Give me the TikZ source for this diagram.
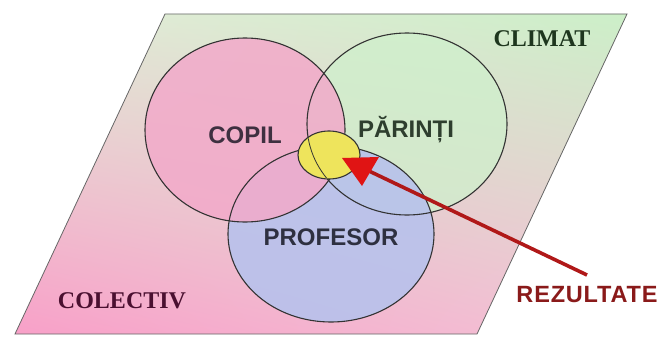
\documentclass[tikz,border=0pt]{standalone}
\usepackage{fontspec}
\setmainfont{Liberation Serif}
\newfontfamily\lsans{Liberation Sans}
\newfontfamily\rezfont{Liberation Sans}[LetterSpace=3.5]
\usetikzlibrary{arrows.meta,shapes.geometric,shadings}
\definecolor{plTL}{HTML}{E4EAD8}
\definecolor{plTR}{HTML}{CCEFC8}
\definecolor{plBL}{HTML}{F8A0C8}
\definecolor{plBR}{HTML}{F2C4D6}
\definecolor{copilfill}{HTML}{F2AACA}
\definecolor{parintifill}{HTML}{CFF0CC}
\definecolor{profesorfill}{HTML}{B8C2EC}
\definecolor{yellowfill}{HTML}{EEE45C}
\definecolor{edgegray}{HTML}{333333}
\definecolor{lblgray}{HTML}{3E3040}
\definecolor{lblgreen}{HTML}{2E3E2E}
\definecolor{profgray}{HTML}{2E3040}
\definecolor{climatgreen}{HTML}{1E361E}
\definecolor{colectivred}{HTML}{4A1030}
\definecolor{rezred}{HTML}{8A1A1A}
\definecolor{lineRed}{HTML}{B01818}
\definecolor{headRed}{HTML}{E01414}
\tikzset{
  blob/.style={ellipse, inner sep=0pt, draw=none},
  outline/.style={draw=edgegray, line width=1.1pt},
  sanslbl/.style={font=\lsans\bfseries\fontsize{24}{28}\selectfont, anchor=base, inner sep=0pt},
  seriflbl/.style={font=\bfseries\fontsize{24}{28}\selectfont, anchor=base, inner sep=0pt},
  arrowline/.style={line width=3.6pt, draw=lineRed},
  arrowhead/.style={fill=headRed, draw=none}
}
\begin{document}
\begin{tikzpicture}[x=1pt,y=-1pt]
\useasboundingbox (0,0) rectangle (663,337);
\fill[white] (0,0) rectangle (663,337);
% background parallelogram
\shade[upper left=plTL, upper right=plTR, lower left=plBL, lower right=plBR]
  (165,14) -- (627,14) -- (477,334) -- (15,334) -- cycle;
\draw[draw=gray!80!black, line width=0.8pt]
  (165,14) -- (627,14) -- (477,334) -- (15,334) -- cycle;
% circle fills
\node[blob, fill=parintifill, fill opacity=0.75, minimum width=200pt, minimum height=182pt] (parinti) at (407,124) {};
\node[blob, fill=profesorfill, fill opacity=0.9, minimum width=206pt, minimum height=176pt] (profesor) at (331,234) {};
\node[blob, fill=copilfill, fill opacity=0.86, minimum width=200pt, minimum height=184pt] (copil) at (245,130) {};
% outlines
\draw[outline] (parinti.center) ellipse [x radius=100pt, y radius=91pt];
\draw[outline] (profesor.center) ellipse [x radius=103pt, y radius=88pt];
\draw[outline] (copil.center) ellipse [x radius=100pt, y radius=92pt];
% result ellipse
\node[ellipse, fill=yellowfill, draw=edgegray, line width=1.1pt, inner sep=0pt,
      minimum width=62pt, minimum height=48pt] (result) at (329,155) {};
\begin{scope}
  \clip (result.center) ellipse [x radius=30pt, y radius=23pt];
  \draw[edgegray, line width=0.8pt] (parinti.center) ellipse [x radius=100pt, y radius=91pt];
\end{scope}
% labels
\node[sanslbl, text=lblgray] (lcopil) at (245,143) {COPIL};
\node[sanslbl, text=lblgreen] (lparinti) at (406,137) {PĂRINȚI};
\node[sanslbl, text=profgray] (lprofesor) at (331,245) {PROFESOR};
\node[seriflbl, text=climatgreen] (climat) at (542,47) {CLIMAT};
\node[seriflbl, text=colectivred] (colectiv) at (122,308) {COLECTIV};
\node[anchor=base, inner sep=0pt, text=rezred, font=\rezfont\bfseries\fontsize{23.5}{28}\selectfont] (rez) at (587,302) {REZULTATE};
% arrow
\coordinate (arrowtail) at (587,275);
\coordinate (arrowtip) at (342,158);
\coordinate (headA) at (379,157);
\coordinate (headB) at (362,186);
\coordinate (headbase) at (369,171);
\draw[arrowline] (arrowtail) -- (headbase);
\fill[arrowhead] (arrowtip) -- (headA) -- (headB) -- cycle;
\end{tikzpicture}
\end{document}
